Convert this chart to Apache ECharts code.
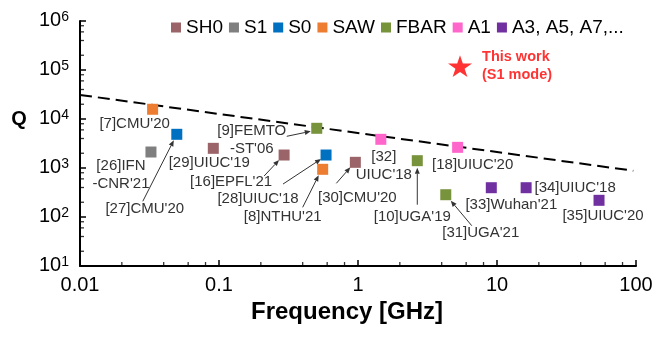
<!DOCTYPE html>
<html>
<head>
<meta charset="utf-8">
<script src="https://cdn.jsdelivr.net/npm/echarts@6/dist/echarts.min.js"></script>
<style>
  html, body { margin: 0; padding: 0; background: #fff; }
  #chart { width: 668px; height: 340px; }
</style>
</head>
<body>
<div id="chart"></div>
<script>
// Reported resonators by mode: frequency (GHz) and quality factor Q
const sh0Refs = ["[29]UIUC'19", "[16]EPFL'21", "[30]CMU'20"];
const sh0Freq = [0.091, 0.294, 0.957];
const sh0Q = [2520, 1840, 1306];

const s1Refs = ["[26]IFN\n-CNR'21"];
const s1Freq = [0.0324];
const s1Q = [2120];

const s0Refs = ["[27]CMU'20", "[28]UIUC'18"];
const s0Freq = [0.0497, 0.589];
const s0Q = [4870, 1840];

const sawRefs = ["[7]CMU'20", "[8]NTHU'21"];
const sawFreq = [0.0333, 0.557];
const sawQ = [15800, 940];

const fbarRefs = ["[9]FEMTO\n-ST'06", "[10]UGA'19", "[31]UGA'21"];
const fbarFreq = [0.505, 2.67, 4.28];
const fbarQ = [6460, 1410, 285];

const a1Refs = ["[32]\nUIUC'18", "[18]UIUC'20"];
const a1Freq = [1.46, 5.21];
const a1Q = [3850, 2640];

const a3Refs = ["[33]Wuhan'21", "[34]UIUC'18", "[35]UIUC'20"];
const a3Freq = [9.1, 16.2, 54.2];
const a3Q = [396, 396, 219];

// This work (S1 mode)
const thisWorkFreq = [5.42];
const thisWorkQ = [120000];

// Dashed state-of-the-art boundary
const trendFreq = [0.01, 95.6];
const trendQ = [31000, 880];

const modeNames = ['SH0', 'S1', 'S0', 'SAW', 'FBAR', 'A1', 'A3, A5, A7,...'];
const xTickLabels = ['0.01', '0.1', '1', '10', '100'];
const yTickExponents = ['1', '2', '3', '4', '5', '6'];

// ---- styling ----
const FONT = '"Liberation Sans", Arial, sans-serif';
const modeColors = ['#9A6468', '#7F7F7F', '#0070C0', '#ED7D31', '#77933C', '#FF66CC', '#7030A0'];
const modeGroups = [
  [sh0Refs, sh0Freq, sh0Q], [s1Refs, s1Freq, s1Q], [s0Refs, s0Freq, s0Q],
  [sawRefs, sawFreq, sawQ], [fbarRefs, fbarFreq, fbarQ], [a1Refs, a1Freq, a1Q],
  [a3Refs, a3Freq, a3Q]
];

// Label placement, in pixels relative to the marker; arrow = [startDx, startDy, tipDx, tipDy]
const labelLayout = {
  "[7]CMU'20":        { dx: -18, dy: 15 },
  "[26]IFN\n-CNR'21": { dx: -30, dy: 23 },
  "[27]CMU'20":       { dx: -32, dy: 75, arrow: [-34, 67, -3, 6] },
  "[29]UIUC'19":      { dx: -4,  dy: 15 },
  "[9]FEMTO\n-ST'06": { dx: -65, dy: 12, arrow: [-30, 8, -6, 3] },
  "[16]EPFL'21":      { dx: -53, dy: 27, arrow: [-20, 21, -5, 5] },
  "[28]UIUC'18":      { dx: -68, dy: 44, arrow: [-43, 29, -5, 4] },
  "[8]NTHU'21":       { dx: -40, dy: 48, arrow: [-20, 38, -4, 6] },
  "[30]CMU'20":       { dx: 2,   dy: 36, arrow: [-19, 21, -5, 5] },
  "[32]\nUIUC'18":    { dx: 3,   dy: 27 },
  "[18]UIUC'20":      { dx: 15,  dy: 18 },
  "[10]UGA'19":       { dx: -5,  dy: 56, arrow: [0, 44, 0, 7] },
  "[31]UGA'21":       { dx: 35,  dy: 38, arrow: [26, 31, 5, 6] },
  "[33]Wuhan'21":     { dx: 20,  dy: 17 },
  "[34]UIUC'18":      { dx: 49,  dy: 0 },
  "[35]UIUC'20":      { dx: 4,   dy: 16 }
};

const notes = [];
modeGroups.forEach(([refs, freq, q]) => {
  refs.forEach((r, i) => notes.push({ ref: r, freq: freq[i], q: q[i] }));
});

// Minor ticks at 2, 4, 6, 8 within each decade
const minorSteps = [2, 4, 6, 8];
const xMinor = [];
for (let e = -2; e < 2; e++) minorSteps.forEach(m => xMinor.push(m * Math.pow(10, e)));
const yMinor = [];
for (let e = 1; e < 6; e++) minorSteps.forEach(m => yMinor.push(m * Math.pow(10, e)));

function renderNote(params, api) {
  const note = notes[params.dataIndex];
  const p = api.coord([note.freq, note.q]);
  const lay = labelLayout[note.ref];
  const kids = [{
    type: 'text',
    x: p[0] + lay.dx, y: p[1] + lay.dy,
    style: {
      text: note.ref, fontSize: 15, fontFamily: FONT, fill: '#333',
      align: 'center', verticalAlign: 'middle', lineHeight: 18
    }
  }];
  if (lay.arrow) {
    const [sx, sy, ex, ey] = lay.arrow;
    const x1 = p[0] + sx, y1 = p[1] + sy, x2 = p[0] + ex, y2 = p[1] + ey;
    const ang = Math.atan2(y2 - y1, x2 - x1);
    const L = 6, W = 2.5;
    const bx = x2 - L * Math.cos(ang), by = y2 - L * Math.sin(ang);
    const nx = -Math.sin(ang), ny = Math.cos(ang);
    kids.push({ type: 'line', shape: { x1, y1, x2: bx, y2: by }, style: { stroke: '#333', lineWidth: 1 } });
    kids.push({ type: 'polygon',
      shape: { points: [[x2, y2], [bx + nx * W, by + ny * W], [bx - nx * W, by - ny * W]] },
      style: { fill: '#333' } });
  }
  return { type: 'group', children: kids };
}

const starPath = 'path://M50,0 L61.2,34.5 L97.6,34.5 L68.2,55.9 L79.4,90.5 L50,69.1 L20.6,90.5 L31.8,55.9 L2.4,34.5 L38.8,34.5 Z';

const series = modeGroups.map(([refs, freq, q], k) => ({
  name: modeNames[k],
  type: 'scatter',
  symbol: 'rect',
  symbolSize: 11,
  itemStyle: { color: modeColors[k], opacity: 1 },
  data: freq.map((f, i) => [f, q[i]]),
  z: 5
}));

series.push({
  name: 'trend',
  type: 'line',
  data: trendFreq.map((f, i) => [f, trendQ[i]]),
  symbol: 'none',
  lineStyle: { color: '#000', width: 2, type: [12, 6] },
  z: 3,
  silent: true
});

series.push({
  name: 'This work',
  type: 'scatter',
  symbol: starPath,
  symbolSize: [24, 23],
  symbolKeepAspect: true,
  itemStyle: { color: '#FF0000' },
  data: thisWorkFreq.map((f, i) => [f, thisWorkQ[i]]),
  label: {
    show: true, position: 'right', distance: 10,
    formatter: 'This work\n(S1 mode)',
    color: '#FF0000', fontFamily: FONT, fontSize: 14.5, fontWeight: 'bold',
    lineHeight: 18, align: 'left'
  },
  z: 6
});

series.push({
  name: 'notes',
  type: 'custom',
  renderItem: renderNote,
  data: notes.map(n => [n.freq, n.q]),
  clip: false,
  silent: true,
  z: 4
});

// Minor ticks drawn as thin rect markers pinned to the axes
series.push({
  name: 'xMinorTicks',
  type: 'scatter',
  symbol: 'rect',
  symbolSize: [1.3, 4],
  symbolOffset: [0, -2],
  itemStyle: { color: '#000' },
  data: xMinor.map(v => [v, 10]),
  clip: false,
  silent: true,
  z: 7
});
series.push({
  name: 'yMinorTicks',
  type: 'scatter',
  symbol: 'rect',
  symbolSize: [4, 1.3],
  symbolOffset: [2, 0],
  itemStyle: { color: '#000' },
  data: yMinor.map(v => [0.01, v]),
  clip: false,
  silent: true,
  z: 7
});

const chart = echarts.init(document.getElementById('chart'), null, { renderer: 'canvas' });
chart.setOption({
  animation: false,
  backgroundColor: '#fff',
  textStyle: { fontFamily: FONT },
  grid: { left: 80, right: 32, top: 21, bottom: 74 },
  legend: {
    data: modeNames,
    left: 166, top: 13,
    icon: 'rect', itemWidth: 10, itemHeight: 10, itemGap: 6,
    textStyle: { fontFamily: FONT, fontSize: 19, color: '#000' },
    selectedMode: false
  },
  xAxis: {
    type: 'log', logBase: 10, min: 0.01, max: 100,
    axisLine: { show: true, lineStyle: { color: '#000', width: 2 } },
    axisTick: { show: true, inside: true, length: 6, lineStyle: { color: '#000', width: 1.5 } },
    splitLine: { show: false },
    axisLabel: {
      margin: 9, fontSize: 20, color: '#000', fontFamily: FONT,
      formatter: v => xTickLabels[Math.round(Math.log10(v)) + 2]
    }
  },
  yAxis: {
    type: 'log', logBase: 10, min: 10, max: 1e6,
    axisLine: { show: true, lineStyle: { color: '#000', width: 2 } },
    axisTick: { show: true, inside: true, length: 6, lineStyle: { color: '#000', width: 1.5 } },
    splitLine: { show: false },
    axisLabel: {
      margin: 11, color: '#000', fontFamily: FONT, padding: [0, 0, 2, 0],
      formatter: v => '{b|10}{s|' + yTickExponents[Math.round(Math.log10(v)) - 1] + '}',
      rich: {
        b: { fontSize: 20, fontFamily: FONT, color: '#000', verticalAlign: 'bottom', lineHeight: 20 },
        s: { fontSize: 14, fontFamily: FONT, color: '#000', verticalAlign: 'top', lineHeight: 14, padding: [0, 0, 14, 0] }
      }
    }
  },
  graphic: [
    { type: 'text', x: 19, y: 119,
      style: { text: 'Q', fontFamily: FONT, fontSize: 20, fontWeight: 'bold', fill: '#000', align: 'center', verticalAlign: 'middle' } },
    { type: 'text', x: 347, y: 312,
      style: { text: 'Frequency [GHz]', fontFamily: FONT, fontSize: 24, fontWeight: 'bold', fill: '#000', align: 'center', verticalAlign: 'middle' } }
  ],
  series
});
</script>
</body>
</html>
